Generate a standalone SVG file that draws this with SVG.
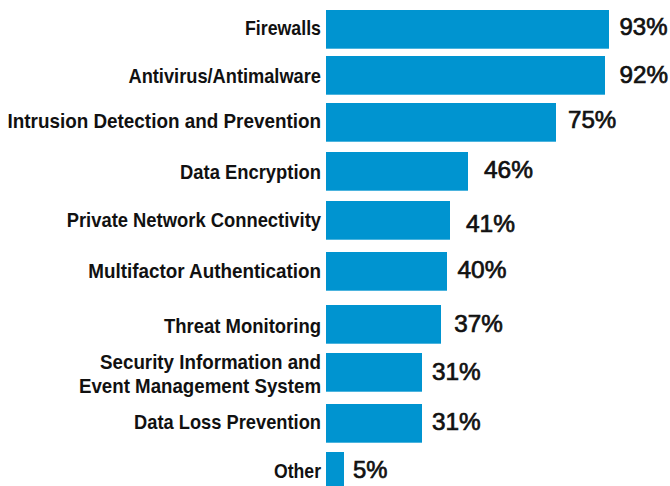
<svg xmlns="http://www.w3.org/2000/svg" width="670" height="486" viewBox="0 0 670 486">
  <style>
    .bar { fill: #0094D0; }
    .cat { font-family: "Liberation Sans", Arial, sans-serif; font-weight: bold; font-size: 20.5px; fill: #111; text-anchor: end; }
    .val { font-family: "Liberation Sans", Arial, sans-serif; font-weight: normal; font-size: 24px; fill: #111; stroke: #111; stroke-width: 0.7px; }
  </style>
  <rect width="670" height="486" fill="#ffffff"/>

  <!-- horizontal bar chart: category label, bar, percentage -->
  <g id="firewalls">
    <text class="cat" x="321" y="35" textLength="76" lengthAdjust="spacingAndGlyphs">Firewalls</text>
    <rect class="bar" x="326" y="10" width="283" height="38.7"/>
    <text class="val" x="619.5" y="35" textLength="48" lengthAdjust="spacingAndGlyphs">93%</text>
  </g>
  <g id="antivirus">
    <text class="cat" x="321" y="83.3" textLength="192.5" lengthAdjust="spacingAndGlyphs">Antivirus/Antimalware</text>
    <rect class="bar" x="326" y="56" width="279" height="38.7"/>
    <text class="val" x="619.5" y="83.3" textLength="48.5" lengthAdjust="spacingAndGlyphs">92%</text>
  </g>
  <g id="intrusion">
    <text class="cat" x="321" y="128.3" textLength="313.5" lengthAdjust="spacingAndGlyphs">Intrusion Detection and Prevention</text>
    <rect class="bar" x="326" y="103" width="230" height="38.7"/>
    <text class="val" x="568" y="128.3" textLength="48.3" lengthAdjust="spacingAndGlyphs">75%</text>
  </g>
  <g id="encryption">
    <text class="cat" x="321" y="179" textLength="141" lengthAdjust="spacingAndGlyphs">Data Encryption</text>
    <rect class="bar" x="326" y="152" width="142" height="38.7"/>
    <text class="val" x="484" y="178.3" textLength="49" lengthAdjust="spacingAndGlyphs">46%</text>
  </g>
  <g id="private-network">
    <text class="cat" x="321" y="226.7" textLength="254.3" lengthAdjust="spacingAndGlyphs">Private Network Connectivity</text>
    <rect class="bar" x="326" y="201" width="124" height="38.7"/>
    <text class="val" x="466" y="231.7" textLength="49" lengthAdjust="spacingAndGlyphs">41%</text>
  </g>
  <g id="mfa">
    <text class="cat" x="321" y="278.3" textLength="232.7" lengthAdjust="spacingAndGlyphs">Multifactor Authentication</text>
    <rect class="bar" x="326" y="252" width="121" height="38.7"/>
    <text class="val" x="457.5" y="277.7" textLength="49" lengthAdjust="spacingAndGlyphs">40%</text>
  </g>
  <g id="threat-monitoring">
    <text class="cat" x="321" y="333.3" textLength="157" lengthAdjust="spacingAndGlyphs">Threat Monitoring</text>
    <rect class="bar" x="326" y="305" width="115" height="38.7"/>
    <text class="val" x="454.3" y="332.3" textLength="48.5" lengthAdjust="spacingAndGlyphs">37%</text>
  </g>
  <g id="siem">
    <text class="cat" x="321" y="369" textLength="221" lengthAdjust="spacingAndGlyphs">Security Information and</text>
    <text class="cat" x="321" y="392.7" textLength="242" lengthAdjust="spacingAndGlyphs">Event Management System</text>
    <rect class="bar" x="326" y="353" width="96" height="38.7"/>
    <text class="val" x="432" y="380" textLength="48.7" lengthAdjust="spacingAndGlyphs">31%</text>
  </g>
  <g id="dlp">
    <text class="cat" x="321" y="429.3" textLength="187" lengthAdjust="spacingAndGlyphs">Data Loss Prevention</text>
    <rect class="bar" x="326" y="404" width="96" height="38.7"/>
    <text class="val" x="432" y="430" textLength="48.7" lengthAdjust="spacingAndGlyphs">31%</text>
  </g>
  <g id="other">
    <text class="cat" x="321" y="477.7" textLength="47" lengthAdjust="spacingAndGlyphs">Other</text>
    <rect class="bar" x="326" y="452" width="18" height="38.7"/>
    <text class="val" x="353" y="478.3" textLength="34.5" lengthAdjust="spacingAndGlyphs">5%</text>
  </g>
</svg>
